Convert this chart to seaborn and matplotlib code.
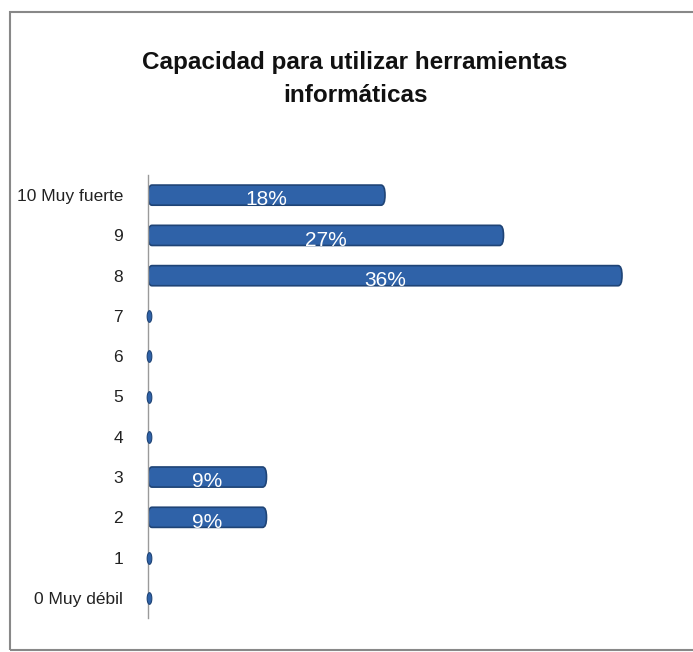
import matplotlib
matplotlib.use("Agg")
import matplotlib.pyplot as plt
import seaborn as sns
import numpy as np
import pandas as pd
from matplotlib.patches import Rectangle, FancyBboxPatch

categorias = ["10 Muy fuerte", "9", "8", "7", "6", "5", "4", "3", "2", "1", "0 Muy débil"]
porcentajes = [18, 27, 36, 0, 0, 0, 0, 9, 9, 0, 0]
titulo = "Capacidad para utilizar herramientas\ninformáticas"

df = pd.DataFrame({"cat": categorias, "pct": porcentajes})

sns.set_style("white")
plt.rcParams["font.family"] = ["Liberation Sans", "DejaVu Sans"]

fig = plt.figure(figsize=(6.93, 6.52), dpi=100)
ax = fig.add_axes([148 / 693, 1 - 618 / 652, 512 / 693, 443 / 652])

sns.barplot(data=df, x="pct", y="cat", order=categorias, orient="h",
            color="#2F62A8", width=0.5, edgecolor="#1F4476", linewidth=1.2,
            saturation=1, ax=ax)

# extremos redondeados como en el grafico de cilindros
for p in list(ax.patches):
    if p.get_width() <= 0:
        p.set_visible(False)
        continue
    x, y = p.get_xy()
    w, h = p.get_width(), p.get_height()
    r = min(0.3, w / 2)
    fb = FancyBboxPatch((x, y), w, h, boxstyle=f"round,pad=0,rounding_size={r}",
                        mutation_aspect=0.25 / 0.3, facecolor=p.get_facecolor(),
                        edgecolor="#1F4476", linewidth=1.2, zorder=2)
    p.set_visible(False)
    ax.add_patch(fb)

# valores nulos: solo se ve la tapa del cilindro
t = np.linspace(0, 2 * np.pi, 40)
elipse = np.column_stack([0.4 * np.cos(t), np.sin(t)])
ceros = df[df["pct"] == 0]
ax.scatter(ceros["pct"] + 0.08, ceros.index, marker=elipse, s=70, color="#2F62A8",
           edgecolor="#1F4476", linewidth=0.8, zorder=3, clip_on=False)

for i, v in enumerate(porcentajes):
    if v > 0:
        ax.text(v / 2, i + 0.12, f"{v}%", color="white", ha="center", va="center",
                fontsize=15, zorder=4)

ax.set_xlim(0, 512 / (474 / 36))
ax.set_ylim(10.5, -0.5)
ax.set_xlabel("")
ax.set_ylabel("")
ax.set_xticks([])
ax.tick_params(axis="y", length=0, pad=18, labelsize=12.5, labelcolor="#222222")
for s in ["top", "right", "bottom"]:
    ax.spines[s].set_visible(False)
ax.spines["left"].set_color("#9a9a9a")
ax.spines["left"].set_linewidth(1.0)

fig.text(355 / 693, 1 - 79 / 652, titulo, ha="center", va="center",
         fontsize=17.5, fontweight="bold", linespacing=1.55, color="#111111")

fig.patches.append(Rectangle((10 / 693, 2 / 652), 1.1, 1 - 14 / 652,
                             transform=fig.transFigure, fill=False,
                             edgecolor="#888888", linewidth=1.5, zorder=0))

fig.savefig("out.png", dpi=100, facecolor="white")
